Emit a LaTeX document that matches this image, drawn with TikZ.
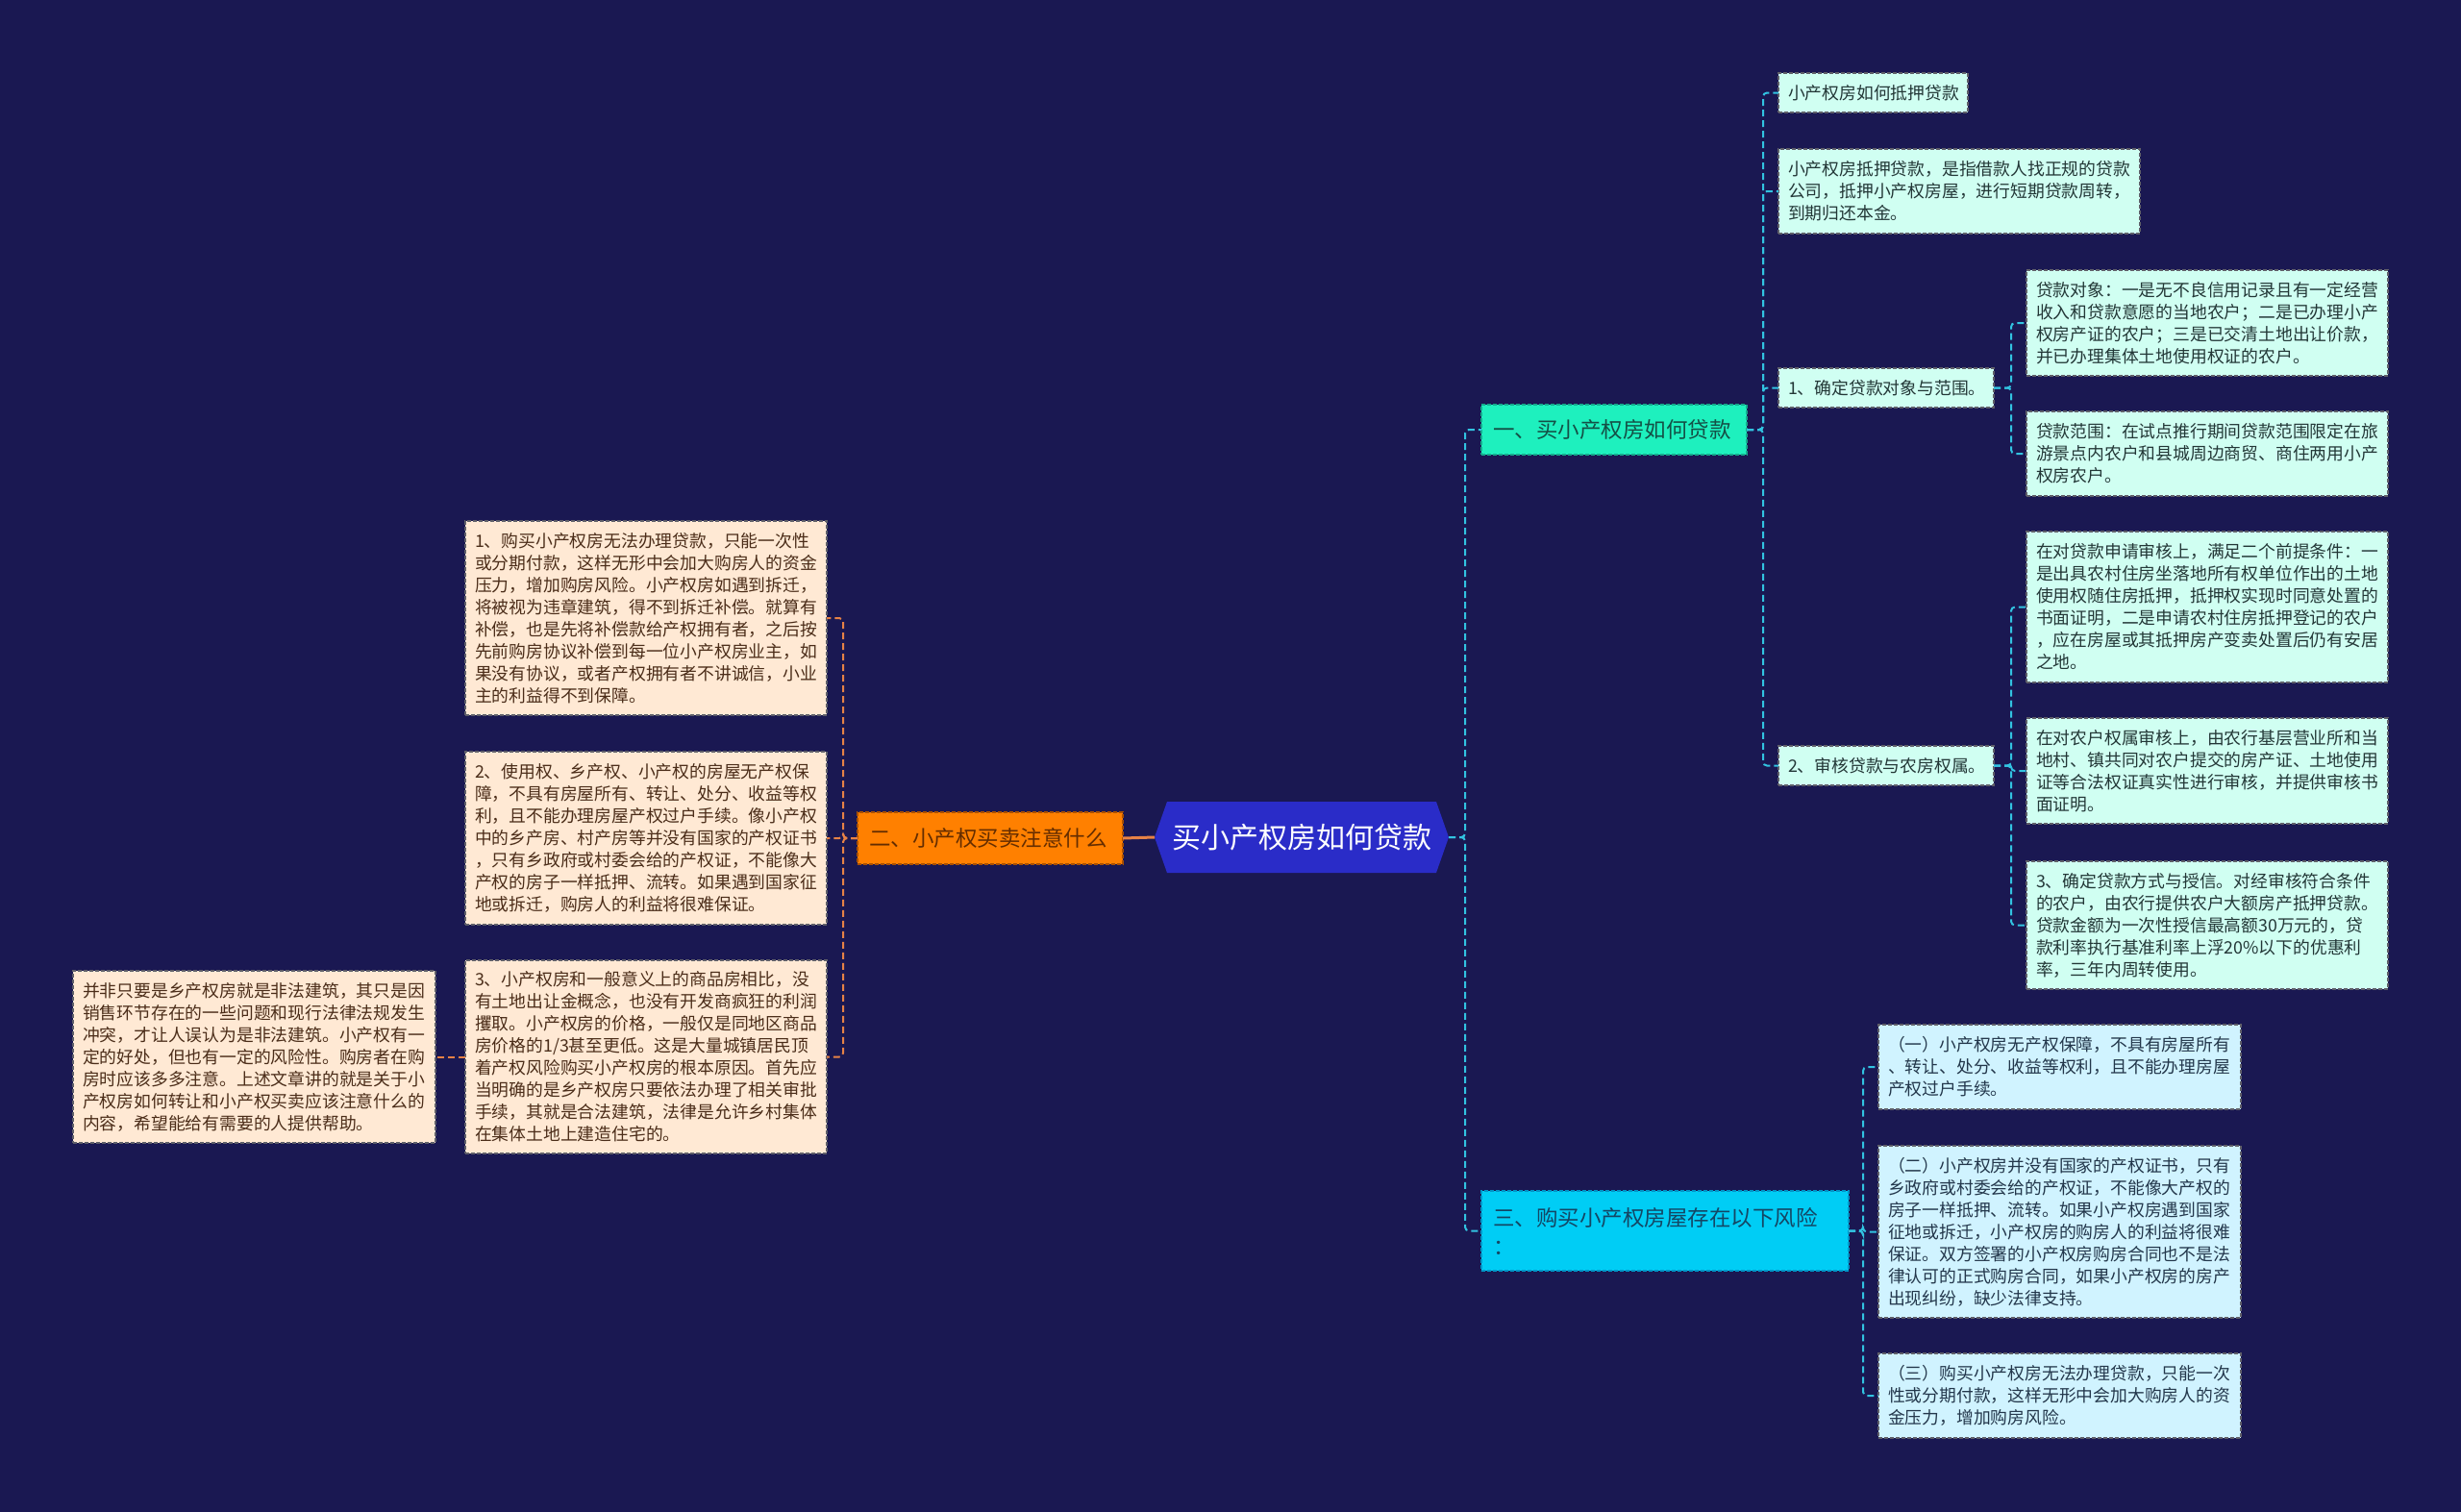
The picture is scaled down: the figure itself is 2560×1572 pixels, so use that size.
\documentclass[tikz,border=0pt]{standalone}
\usepackage{fontspec}
\setmainfont{Noto Sans CJK SC}
\usetikzlibrary{calc}
\definecolor{bg}{RGB}{26,24,82}
\definecolor{hexblue}{RGB}{42,44,200}
\definecolor{orangefill}{RGB}{255,128,0}
\definecolor{orangeborder}{RGB}{170,80,0}
\definecolor{greenfill}{RGB}{30,240,190}
\definecolor{greenborder}{RGB}{20,170,140}
\definecolor{cyanfill}{RGB}{0,205,245}
\definecolor{cyanborder}{RGB}{0,150,200}
\definecolor{mint}{RGB}{208,255,242}
\definecolor{icecyan}{RGB}{208,243,255}
\definecolor{peach}{RGB}{255,233,212}
\definecolor{leafborder}{RGB}{95,95,105}
\definecolor{linecyan}{RGB}{50,195,225}
\definecolor{lineorange}{RGB}{230,130,70}
\definecolor{darktext}{RGB}{35,55,55}
\definecolor{icetext}{RGB}{35,55,75}
\definecolor{browntext}{RGB}{75,45,25}
\definecolor{greentext}{RGB}{20,80,70}
\definecolor{orangetext}{RGB}{100,45,0}
\definecolor{cyantext}{RGB}{20,70,100}
\tikzset{
  box/.style={anchor=north west, inner xsep=10pt, inner ysep=0pt, outer sep=0pt,
    align=left, dash pattern=on 4pt off 2pt, line width=1.2pt},
  leafbox/.style={box, font=\fontsize{17.8}{23}\selectfont, draw=leafborder},
  mintleaf/.style={leafbox, fill=mint, text=darktext},
  iceleaf/.style={leafbox, fill=icecyan, text=icetext},
  peachleaf/.style={leafbox, fill=peach, text=browntext},
  mainbox/.style={box, inner xsep=12pt, font=\fontsize{22.5}{30}\selectfont},
  greenmain/.style={mainbox, fill=greenfill, draw=greenborder, text=greentext},
  orangemain/.style={mainbox, fill=orangefill, draw=orangeborder, text=orangetext},
  cyanmain/.style={mainbox, fill=cyanfill, draw=cyanborder, text=cyantext},
  cconn/.style={draw=linecyan, line width=2pt, dash pattern=on 7pt off 4pt, rounded corners=4pt},
  oconn/.style={draw=lineorange, line width=2pt, dash pattern=on 7pt off 4pt, rounded corners=4pt},
}
\begin{document}
\begin{tikzpicture}[x=1pt,y=1pt]
\useasboundingbox (0,0) rectangle (2560,-1572);
\fill[bg] (-10,10) rectangle (2570,-1582);

% center hexagon
\fill[hexblue] (1201,-871) -- (1214,-834) -- (1494,-834) -- (1507,-871) -- (1494,-908) -- (1214,-908) -- cycle;
\node (c) at (1354,-871) [minimum width=306pt, minimum height=74pt, inner sep=0pt, outer sep=0pt, text=white, font=\fontsize{30}{36}\selectfont] {买小产权房如何贷款};

% main branches
\node[greenmain, minimum height=52pt, text width=252pt] (b1) at (1541,-421) {一、买小产权房如何贷款};
\node[cyanmain, minimum height=83pt, text width=358pt] (b3) at (1541,-1239) {三、购买小产权房屋存在以下风险\\：};
\node[orangemain, minimum height=54pt, text width=252pt] (b2) at (892,-845) {二、小产权买卖注意什么};

% branch 1 leaves
\node[mintleaf, minimum height=41pt, text width=177pt] (a1) at (1850,-76) {小产权房如何抵押贷款};
\node[mintleaf, minimum height=88pt, text width=356pt] (a2) at (1850,-155) {小产权房抵押贷款，是指借款人找正规的贷款\\公司，抵押小产权房屋，进行短期贷款周转，\\到期归还本金。};
\node[mintleaf, minimum height=41pt, text width=204pt] (a3) at (1850,-383) {1、确定贷款对象与范围。};
\node[mintleaf, minimum height=41pt, text width=204pt] (a4) at (1850,-776) {2、审核贷款与农房权属。};
\node[mintleaf, minimum height=110pt, text width=356pt] (a31) at (2108,-281) {贷款对象：一是无不良信用记录且有一定经营\\收入和贷款意愿的当地农户；二是已办理小产\\权房产证的农户；三是已交清土地出让价款，\\并已办理集体土地使用权证的农户。};
\node[mintleaf, minimum height=88pt, text width=356pt] (a32) at (2108,-428) {贷款范围：在试点推行期间贷款范围限定在旅\\游景点内农户和县城周边商贸、商住两用小产\\权房农户。};
\node[mintleaf, minimum height=157pt, text width=356pt] (a41) at (2108,-553) {在对贷款申请审核上，满足二个前提条件：一\\是出具农村住房坐落地所有权单位作出的土地\\使用权随住房抵押，抵押权实现时同意处置的\\书面证明，二是申请农村住房抵押登记的农户\\，应在房屋或其抵押房产变卖处置后仍有安居\\之地。};
\node[mintleaf, minimum height=110pt, text width=356pt] (a42) at (2108,-747) {在对农户权属审核上，由农行基层营业所和当\\地村、镇共同对农户提交的房产证、土地使用\\证等合法权证真实性进行审核，并提供审核书\\面证明。};
\node[mintleaf, minimum height=133pt, text width=356pt] (a43) at (2108,-896) {3、确定贷款方式与授信。对经审核符合条件\\的农户，由农行提供农户大额房产抵押贷款。\\贷款金额为一次性授信最高额30万元的，贷\\款利率执行基准利率上浮20\%以下的优惠利\\率，三年内周转使用。};

% branch 3 leaves
\node[iceleaf, minimum height=88pt, text width=357pt] (r1) at (1954,-1066) {（一）小产权房无产权保障，不具有房屋所有\\、转让、处分、收益等权利，且不能办理房屋\\产权过户手续。};
\node[iceleaf, minimum height=179pt, text width=357pt] (r2) at (1954,-1192) {（二）小产权房并没有国家的产权证书，只有\\乡政府或村委会给的产权证，不能像大产权的\\房子一样抵押、流转。如果小产权房遇到国家\\征地或拆迁，小产权房的购房人的利益将很难\\保证。双方签署的小产权房购房合同也不是法\\律认可的正式购房合同，如果小产权房的房产\\出现纠纷，缺少法律支持。};
\node[iceleaf, minimum height=88pt, text width=357pt] (r3) at (1954,-1408) {（三）购买小产权房无法办理贷款，只能一次\\性或分期付款，这样无形中会加大购房人的资\\金压力，增加购房风险。};

% branch 2 leaves
\node[peachleaf, minimum height=202pt, text width=356pt] (l1) at (484,-542) {1、购买小产权房无法办理贷款，只能一次性\\或分期付款，这样无形中会加大购房人的资金\\压力，增加购房风险。小产权房如遇到拆迁，\\将被视为违章建筑，得不到拆迁补偿。就算有\\补偿，也是先将补偿款给产权拥有者，之后按\\先前购房协议补偿到每一位小产权房业主，如\\果没有协议，或者产权拥有者不讲诚信，小业\\主的利益得不到保障。};
\node[peachleaf, minimum height=180pt, text width=356pt] (l2) at (484,-782) {2、使用权、乡产权、小产权的房屋无产权保\\障，不具有房屋所有、转让、处分、收益等权\\利，且不能办理房屋产权过户手续。像小产权\\中的乡产房、村产房等并没有国家的产权证书\\，只有乡政府或村委会给的产权证，不能像大\\产权的房子一样抵押、流转。如果遇到国家征\\地或拆迁，购房人的利益将很难保证。};
\node[peachleaf, minimum height=201pt, text width=356pt] (l3) at (484,-999) {3、小产权房和一般意义上的商品房相比，没\\有土地出让金概念，也没有开发商疯狂的利润\\攫取。小产权房的价格，一般仅是同地区商品\\房价格的1/3甚至更低。这是大量城镇居民顶\\着产权风险购买小产权房的根本原因。首先应\\当明确的是乡产权房只要依法办理了相关审批\\手续，其就是合法建筑，法律是允许乡村集体\\在集体土地上建造住宅的。};
\node[peachleaf, minimum height=179pt, text width=357pt] (l4) at (76,-1010) {并非只要是乡产权房就是非法建筑，其只是因\\销售环节存在的一些问题和现行法律法规发生\\冲突，才让人误认为是非法建筑。小产权有一\\定的好处，但也有一定的风险性。购房者在购\\房时应该多多注意。上述文章讲的就是关于小\\产权房如何转让和小产权买卖应该注意什么的\\内容，希望能给有需要的人提供帮助。};

% connectors
\draw[cconn] (c.east) -- ++(17,0) |- (b1.west);
\draw[cconn] (c.east) -- ++(17,0) |- (b3.west);
\foreach \t in {a1,a2,a3,a4} \draw[cconn] (b1.east) -- ++(17,0) |- (\t.west);
\foreach \t in {a31,a32} \draw[cconn] (a3.east) -- ++(18,0) |- (\t.west);
\foreach \t in {a41,a42,a43} \draw[cconn] (a4.east) -- ++(18,0) |- (\t.west);
\foreach \t in {r1,r2,r3} \draw[cconn] (b3.east) -- ++(15,0) |- (\t.west);
\draw[lineorange, line width=3pt] (c.west) -- (b2.east);
\foreach \t in {l1,l2,l3} \draw[oconn] (b2.west) -- ++(-15,0) |- (\t.east);
\draw[oconn] (l3.west) -- (l4.east);
\end{tikzpicture}
\end{document}
